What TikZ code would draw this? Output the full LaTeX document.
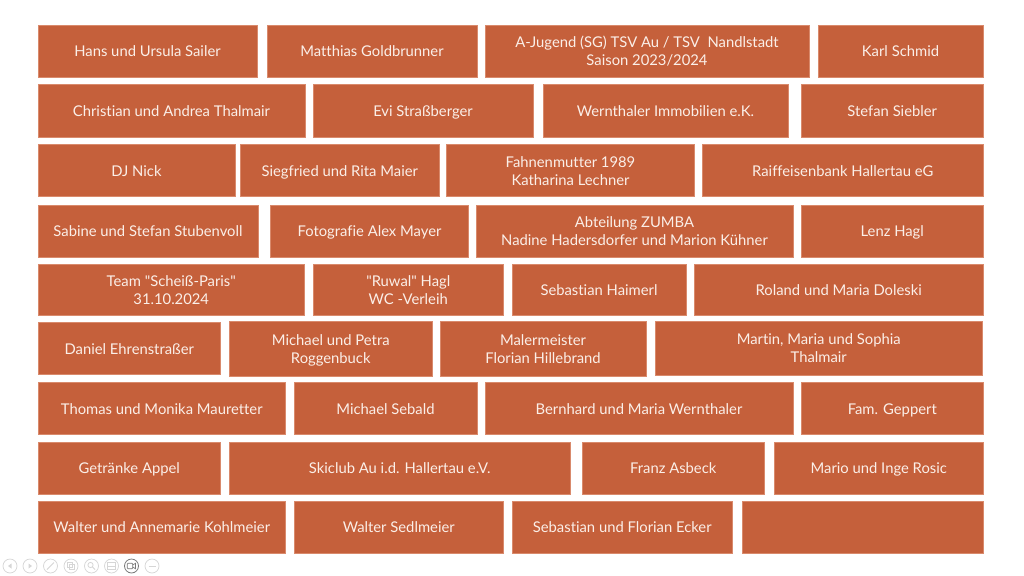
\documentclass[tikz,border=0pt]{standalone}
\usepackage{fontspec}
\setmainfont{Lato}[Ligatures={TeXOff,CommonOff}]
\definecolor{brick}{HTML}{C5603B}
\definecolor{brickedge}{HTML}{D98A6C}
\definecolor{brtext}{HTML}{FBEFE8}
\definecolor{icon}{HTML}{D6D6D6}
\definecolor{icondark}{HTML}{7A7A7A}
\tikzset{
  brickbox/.style={fill=brick, draw=brickedge, line width=0.5pt, inner sep=0pt, align=center, text=brtext, font=\fontsize{14.8}{18}\selectfont},
  ctrl/.style={circle, draw=icon, line width=0.7pt, minimum size=14pt, inner sep=0pt},
  ctrldark/.style={circle, draw=icondark, line width=0.8pt, minimum size=14pt, inner sep=0pt},
}
\newcommand{\bstrut}{\rule[-3.3pt]{0pt}{18pt}}
\newcommand{\brick}[6]{\node[brickbox, minimum width={#3-#2}, minimum height={#5-#4}] (#1) at ({(#2+#3)/2},{(#4+#5)/2}) {\bstrut #6};}
\newcommand{\nl}{\\\bstrut}
\begin{document}
\begin{tikzpicture}[x=1pt,y=-1pt]
\useasboundingbox (0,0) rectangle (1024,575);
\fill[white] (0,0) rectangle (1024,575);
% row 1
\brick{b11}{38}{257}{25}{77}{Hans und Ursula Sailer}
\brick{b12}{267}{477}{25}{77}{Matthias Goldbrunner}
\brick{b13}{485}{809}{25}{77}{A-Jugend (SG) TSV Au / TSV\ \ Nandlstadt\nl Saison 2023/2024}
\brick{b14}{818}{983}{25}{77}{Karl Schmid}
% row 2
\brick{b21}{38}{305}{84.5}{137}{Christian und Andrea Thalmair}
\brick{b22}{313}{533}{84.5}{137}{Evi Straßberger}
\brick{b23}{543}{788}{84.5}{137}{Wernthaler Immobilien e.K.}
\brick{b24}{801.5}{983}{84.5}{137}{Stefan Siebler}
% row 3
\brick{b31}{38}{235}{144.5}{196.5}{DJ Nick}
\brick{b32}{240.5}{439}{144.5}{196.5}{Siegfried und Rita Maier}
\brick{b33}{446.5}{694.5}{144.5}{196.5}{Fahnenmutter 1989\nl Katharina Lechner}
\brick{b34}{702.5}{983}{144.5}{196.5}{Raiffeisenbank Hallertau eG}
% row 4
\brick{b41}{38}{258}{205}{257.5}{Sabine und Stefan Stubenvoll}
\brick{b42}{270.5}{468.5}{205}{257.5}{Fotografie Alex Mayer}
\brick{b43}{476}{793}{205}{257.5}{Abteilung ZUMBA\nl Nadine Hadersdorfer und Marion Kühner}
\brick{b44}{801.5}{983}{205}{257.5}{Lenz Hagl}
% row 5
\brick{b51}{38}{304.5}{264}{315.5}{Team "Scheiß-Paris"\nl 31.10.2024}
\brick{b52}{313}{503.5}{264}{315.5}{"Ruwal" Hagl\nl WC -Verleih}
\brick{b53}{512}{686}{264}{315.5}{Sebastian Haimerl}
\brick{b54}{694.5}{983}{264}{315.5}{Roland und Maria Doleski}
% row 6
\brick{b61}{38}{220.5}{322.5}{374.5}{Daniel Ehrenstraßer}
\brick{b62}{229}{432.5}{321.5}{376.5}{Michael und Petra\nl Roggenbuck}
\brick{b63}{440}{646}{321.5}{376}{Malermeister\nl Florian Hillebrand}
\brick{b64}{655}{982.5}{321.5}{375}{Martin, Maria und Sophia\nl Thalmair}
% row 7
\brick{b71}{38}{285.5}{382.5}{434.5}{Thomas und Monika Mauretter}
\brick{b72}{294}{477}{382.5}{434.5}{Michael Sebald}
\brick{b73}{485}{793}{382.5}{434.5}{Bernhard und Maria Wernthaler}
\brick{b74}{801.5}{983}{382.5}{434.5}{Fam. Geppert}
% row 8
\brick{b81}{38}{220.5}{442.5}{494}{Getränke Appel}
\brick{b82}{229.5}{570}{442.5}{494}{Skiclub Au i.d. Hallertau e.V.}
\brick{b83}{582}{764.5}{442.5}{494}{Franz Asbeck}
\brick{b84}{774.5}{983}{442.5}{494}{Mario und Inge Rosic}
% row 9
\brick{b91}{38}{285.5}{501.5}{553}{Walter und Annemarie Kohlmeier}
\brick{b92}{294}{503.5}{501.5}{553}{Walter Sedlmeier}
\brick{b93}{512}{732.5}{501.5}{553}{Sebastian und Florian Ecker}
\brick{b94}{742}{983}{501.5}{553}{}
% slideshow controls
\node[ctrl] (i1) at (10,566) {};
\fill[icon] (8,566) -- (11.5,563.5) -- (11.5,568.5) -- cycle;
\node[ctrl] (i2) at (30,566) {};
\fill[icon] (32,566) -- (28.5,563.5) -- (28.5,568.5) -- cycle;
\node[ctrl] (i3) at (50.5,566) {};
\draw[icon, line width=1pt] (47,569.5) -- (54,562.5);
\node[ctrl] (i4) at (71,566) {};
\draw[icon, line width=0.7pt] (67.5,562.5) rectangle (72.5,567.5) (69.5,564.5) rectangle (74.5,569.5);
\node[ctrl] (i5) at (91.5,566) {};
\draw[icon, line width=0.8pt] (90.5,565) circle (2.6pt) (92.4,566.9) -- (95,569.5);
\node[ctrl] (i6) at (111.5,566) {};
\draw[icon, line width=0.7pt] (107.5,562.5) rectangle (115.5,569.5) (107.5,566.5) -- (115.5,566.5);
\node[ctrldark] (i7) at (131.5,566) {};
\draw[icondark, line width=0.7pt, rounded corners=0.8pt] (127.3,563.3) rectangle (132.7,568.7);
\draw[icondark, line width=0.7pt] (132.7,565) -- (135.5,563.3) -- (135.5,568.7) -- (132.7,567);
\node[ctrl] (i8) at (152,566) {};
\draw[icon, line width=1pt] (148.5,566) -- (155.5,566);
\end{tikzpicture}
\end{document}
